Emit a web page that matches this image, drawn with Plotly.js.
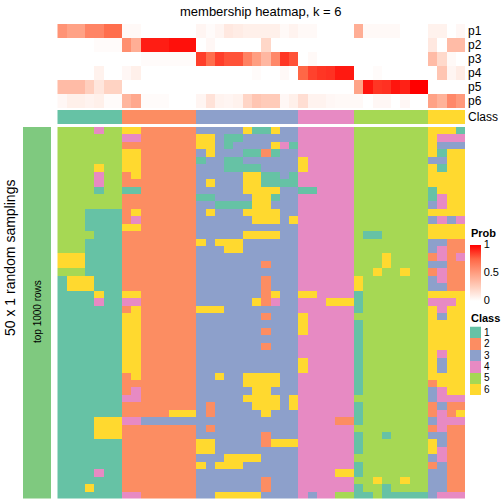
<!DOCTYPE html>
<html><head><meta charset="utf-8">
<script src="https://cdn.plot.ly/plotly-3.0.1.min.js"></script>
<style>html,body{margin:0;padding:0;background:#fff}#chart{width:504px;height:504px}</style>
</head><body><div id="chart"></div>
<script>
// ---- data ----
const memberRows = ['p1','p2','p3','p4','p5','p6'];
const p1 = [0.55,0.48,0.48,0.62,0.62,0.72,0.72, 0.03,0.03,0,0,0,0,0,0, 0.05,0.02,0.05,0.12,0.1,0.08,0.08,0.08,0.08,0.03,0.06, 0.03,0.03,0,0,0,0, 0.42,0.03,0.03,0.03,0.03,0,0,0, 0.07,0.07,0,0.04];
const p2 = [0,0,0,0,0.02,0.02,0.02, 0.57,0.42,0.93,0.93,0.93,0.96,0.96,0.96, 0,0.04,0,0,0,0,0,0.21,0,0,0, 0,0,0,0,0,0, 0,0,0,0,0,0,0,0, 0.12,0,0.35,0.35];
const p3 = [0,0,0,0,0,0,0, 0,0,0.02,0.02,0.02,0.02,0.02,0.02, 0.85,0.72,0.85,0.8,0.8,0.63,0.5,0.37,0.6,0.87,0.8, 0,0.03,0,0,0,0, 0,0,0,0,0,0,0,0, 0.35,0.2,0.03,0];
const p4 = [0,0,0,0,0.07,0,0, 0.04,0.08,0,0,0,0,0,0, 0,0,0,0,0,0,0.02,0,0,0.03,0, 0.75,0.84,0.87,0.88,0.94,0.94, 0,0,0.02,0,0,0,0,0, 0,0.3,0.05,0.1];
const p5 = [0.35,0.35,0.35,0.25,0.13,0.23,0.23, 0,0,0,0,0,0,0,0, 0,0,0,0,0,0,0,0,0,0,0, 0,0,0,0,0,0, 0.47,0.95,0.87,0.88,0.95,0.92,1,1, 0,0,0,0];
const p6 = [0.04,0.08,0.08,0.06,0.08,0.02,0.02, 0.38,0.45,0.02,0.02,0.02,0,0,0, 0.05,0.15,0.06,0.05,0.07,0.22,0.3,0.27,0.27,0.04,0.08, 0.17,0.06,0.06,0.04,0.03,0.03, 0.03,0,0.04,0.04,0,0.04,0,0, 0.48,0.4,0.6,0.52];
const columnClass = [1,1,1,1,1,1,1, 2,2,2,2,2,2,2,2, 3,3,3,3,3,3,3,3,3,3,3, 4,4,4,4,4,4, 5,5,5,5,5,5,5,5, 6,6,6,6];
const classLabels = ['1','2','3','4','5','6'];
const classColors = ['#66C2A5','#FC8D62','#8DA0CB','#E78AC3','#A6D854','#FFD92F'];
const probTicks = [0, 0.5, 1];
const sampleGroup = 'top 1000 rows';
const samplingRows = [
'55554556622222233333611633444444555555556661',
'55555554422222266311333333444444555555556444',
'55555552222222266313333641444444555555556333',
'55555556622222236333112133444444555555556166',
'55555556622222213311333333644444555555553366',
'55556556622222233311113333644444555555556166',
'55554552622222233333661131444444555555556666',
'55554552222222236333661111444444555555556666',
'55551551122222233333666633114444555555551666',
'55555552222222211333366133444444555555551466',
'55555552222222233111166333444444555555553466',
'55511112622222236333666633444444555555556666',
'55511112422222233333366636444444555555553434',
'55511116622222233333333333444444555555556666',
'55551112222222233333666633444444511555556666',
'55511112222222263666333333444444555555553322',
'55511112222222233366333333444444555555553422',
'66611112222222233333333333444444555655552424',
'66611112222222233333332333444444555655553322',
'55511112222222233333333333444444556556552422',
'16661112222222233333332333444444655555553422',
'16661112222222233333332333444444655555553322',
'11116116622222233333332633664444155555556666',
'11114114422222233333362433444666155555554446',
'11111112622222266633333333444444155555556466',
'11111116622222233333332333644444555555556366',
'11111116622222233333333333644444155555556666',
'11111116622222233333332333644444155555556666',
'11111116622222233333333333444444155555556666',
'11111116622222233333332333444444155555556666',
'11111116622222233333333333444444155555556466',
'11111116622222233333333333644444155555556366',
'11111116622222233333333333644444155555556366',
'11111112622222233633666633444444155555556666',
'11111112222222233333666633444444155555552666',
'11111112422222233333366333444444155555553466',
'11111114422222233333666636444444555555553444',
'11111112222222232333366636444444155555552322',
'11111112222266632333336333444444155555552426',
'11116664433333333333333333444422155555553444',
'11116662222222232333333333444444555555552422',
'11116662222222233333332333444444155155553322',
'11111112222222266333332666444444155555556322',
'11111112222222266333333333444444155555556422',
'11111112222222233366663333444444555555553422',
'11111112222222263666333333444444155555552322',
'11114112222222233333333333444466155555553322',
'11111112222222233333332333444444556556553322',
'11161112222222233333332333444444155155553322',
'11111114422222233666663333434455115111113444'
];

// ---- helpers ----
const W = 504, H = 504;
const px = x => x / W;
const py = y => 1 - y / H;
const nCol = columnClass.length;
const colIdx = columnClass.map((_, i) => i);
const sampMatrix = samplingRows.map(r => r.split('').map(Number));
const rowIdx = sampMatrix.map((_, i) => i);

function discreteScale(colors) {
  const n = colors.length, s = [];
  colors.forEach((c, i) => { s.push([i / n, c]); s.push([(i + 1) / n, c]); });
  return s;
}
const clsScale = discreteScale(classColors);
const probScale = [[0,'#FFFFFF'],[0.25,'#FFCFBE'],[0.5,'#FF9E81'],[0.75,'#FF6746'],[1,'#FF0000']];

const hmX = [px(57.3), px(465)];
const traces = [
  { type:'heatmap', z:[p1,p2,p3,p4,p5,p6], x:colIdx, y:memberRows, xaxis:'x', yaxis:'y',
    colorscale:probScale, zmin:0, zmax:1, hoverinfo:'skip',
    colorbar:{x:px(470), xanchor:'left', xref:'paper', y:py(272.5), yanchor:'middle', yref:'paper',
      len:56, lenmode:'pixels', thickness:11, thicknessmode:'pixels', xpad:0, ypad:0, outlinewidth:0,
      tickmode:'array', tickvals:probTicks, ticktext:probTicks.map(String), ticks:'',
      tickfont:{size:11, color:'#000'}} },
  { type:'heatmap', z:[columnClass], x:colIdx, y:['Class'], xaxis:'x', yaxis:'y2',
    colorscale:clsScale, zmin:0.5, zmax:6.5, showscale:false, hoverinfo:'skip' },
  { type:'heatmap', z:sampMatrix, x:colIdx, y:rowIdx, xaxis:'x', yaxis:'y3',
    colorscale:clsScale, zmin:0.5, zmax:6.5, showscale:false, hoverinfo:'skip' },
  { type:'heatmap', z:rowIdx.map(() => [1]), x:[sampleGroup], y:rowIdx, xaxis:'x2', yaxis:'y4',
    colorscale:[[0,'#7FC97F'],[1,'#7FC97F']], showscale:false, hoverinfo:'skip' },
  { type:'heatmap', z:classLabels.map(c => [Number(c)]), x:[0], y:classLabels, xaxis:'x3', yaxis:'y5',
    colorscale:clsScale, zmin:0.5, zmax:6.5, showscale:false, hoverinfo:'skip' }
];

const hidden = {showgrid:false, zeroline:false, showline:false, showticklabels:false, ticks:''};
const rightLabels = (vals, size) => ({side:'right', ticks:'', showgrid:false, zeroline:false, showline:false,
  tickmode:'array', tickvals:vals, ticktext:vals, tickfont:{size:size}, ticklabelstandoff:2});
const layout = {
  width:W, height:H, margin:{l:0,r:0,t:0,b:0}, paper_bgcolor:'#fff', plot_bgcolor:'#fff',
  font:{family:'Liberation Sans, Arial, sans-serif', color:'#000'},
  showlegend:false,
  xaxis:Object.assign({domain:hmX, range:[-0.5, nCol-0.5], anchor:'y3'}, hidden),
  yaxis:Object.assign({domain:[py(108), py(24)], autorange:'reversed', anchor:'x'}, rightLabels(memberRows, 12)),
  yaxis2:Object.assign({domain:[py(124), py(110)], anchor:'x'}, rightLabels(['Class'], 12)),
  yaxis3:Object.assign({domain:[py(498.5), py(127)], autorange:'reversed', anchor:'x'}, hidden),
  xaxis2:Object.assign({domain:[px(23), px(51)], anchor:'y4'}, hidden),
  yaxis4:Object.assign({domain:[py(498.5), py(127)], autorange:'reversed', anchor:'x2'}, hidden),
  xaxis3:Object.assign({domain:[px(470), px(481)], anchor:'y5'}, hidden),
  yaxis5:Object.assign({domain:[py(395), py(326.5)], autorange:'reversed', anchor:'x3'}, rightLabels(classLabels, 10)),
  annotations:[
    {text:'membership heatmap, k = 6', x:px(261), y:py(11), xref:'paper', yref:'paper',
      showarrow:false, font:{size:13}, xanchor:'center', yanchor:'middle'},
    {text:'<b>Prob</b>', x:px(469), y:py(233), xref:'paper', yref:'paper', showarrow:false,
      font:{size:11}, xanchor:'left', yanchor:'middle'},
    {text:'<b>Class</b>', x:px(469), y:py(318), xref:'paper', yref:'paper', showarrow:false,
      font:{size:11}, xanchor:'left', yanchor:'middle'},
    {text:'50 x 1 random samplings', x:px(10), y:py(258), xref:'paper', yref:'paper', showarrow:false,
      textangle:-90, font:{size:14}, xanchor:'center', yanchor:'middle'},
    {text:sampleGroup, x:px(37), y:py(312), xref:'paper', yref:'paper', showarrow:false,
      textangle:-90, font:{size:10}, xanchor:'center', yanchor:'middle'}
  ]
};
Plotly.newPlot('chart', traces, layout, {staticPlot:true, displayModeBar:false});
</script>
</body></html>
